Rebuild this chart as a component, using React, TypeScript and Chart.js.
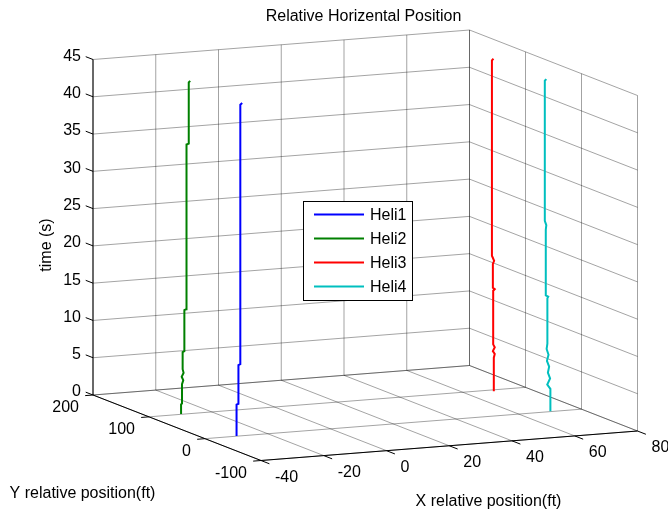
import React, { useEffect, useRef } from "react";
import { Chart, registerables } from "chart.js";

Chart.register(...registerables);

// ---- axis ticks ----
const xTicks = [-40, -20, 0, 20, 40, 60, 80];
const yTicks = [-100, 0, 100, 200];
const zTicks = [0, 5, 10, 15, 20, 25, 30, 35, 40, 45];
const xTickLabels = ["-40", "-20", "0", "20", "40", "60", "80"];
const yTickLabels = ["-100", "0", "100", "200"];
const zTickLabels = ["0", "5", "10", "15", "20", "25", "30", "35", "40", "45"];

// ---- series (time, x, y) ----
const seriesNames = ["Heli1", "Heli2", "Heli3", "Heli4"];

const heli1Time = [0, 4.2, 4.3, 9.5, 9.6, 44.4, 44.6];
const heli1X = [-29.8, -29.8, -29.2, -29.2, -28.6, -28.6, -28.0];
const heli1Y = [0.8, 0.8, 0.8, 0.8, 0.8, 0.8, 0.8];

const heli2Time = [0, 1.3, 1.4, 4.0, 4.5, 5.0, 5.5, 6.0, 8.3, 8.4, 13.9, 14.0, 21.5, 21.6, 36.1, 36.2, 44.4, 44.6];
const heli2X = [-29.6, -29.6, -29.3, -29.3, -28.9, -29.4, -28.8, -29.1, -29.1, -28.55, -28.55, -28.0, -28.0, -27.8, -27.8, -27.15, -27.15, -26.7];
const heli2Y = [101, 101, 101, 101, 101, 101, 101, 101, 101, 101, 101, 101, 101, 101, 101, 101, 101, 101];

const heli3Time = [0, 4.5, 5.0, 5.4, 5.9, 6.3, 6.7, 13.5, 13.7, 13.9, 17.1, 17.5, 18.2, 44.4, 44.6];
const heli3X = [68.9, 68.9, 69.2, 68.6, 69.2, 68.7, 68.7, 68.7, 69.2, 68.6, 68.6, 69.0, 68.3, 68.3, 68.8];
const heli3Y = [94.4, 94.4, 94.4, 94.4, 94.4, 94.4, 94.4, 94.4, 94.4, 94.4, 94.4, 94.4, 94.4, 94.4, 94.4];

const heli4Time = [0, 3.0, 3.6, 4.4, 5.2, 6.0, 6.8, 7.6, 8.4, 9.1, 15.2, 15.4, 15.6, 24.4, 25.0, 25.6, 44.4, 44.6];
const heli4X = [70.3, 70.3, 69.3, 70.2, 69.5, 69.9, 69.2, 69.7, 69.1, 69.34, 69.34, 69.6, 68.83, 68.83, 69.0, 68.52, 68.52, 69.0];
const heli4Y = [1.2, 1.2, 1.2, 1.2, 1.2, 1.2, 1.2, 1.2, 1.2, 1.2, 1.2, 1.2, 1.2, 1.2, 1.2, 1.2, 1.2, 1.2];

const seriesColors = ["#0000ff", "#008000", "#ff0000", "#00bfbf"];

// ---- view (orthographic projection of the 3D box into canvas space) ----
const W = 668;
const H = 512;
const X_MIN = xTicks[0], X_MAX = xTicks[xTicks.length - 1];
const Y_MIN = yTicks[0], Y_MAX = yTicks[yTicks.length - 1];
const Z_MIN = zTicks[0], Z_MAX = zTicks[zTicks.length - 1];
const VIEW = {
  ox: 261, oy: 460.5,          // screen position of (X_MIN, Y_MIN, Z_MIN)
  exx: 376.5 / 120, exy: -29.5 / 120,
  eyx: -168 / 300, eyy: -65.5 / 300,
  ezy: -335.5 / 45,
};
function proj(x: number, y: number, z: number) {
  const a = x - X_MIN, b = y - Y_MIN, c = z - Z_MIN;
  return {
    x: VIEW.ox + a * VIEW.exx + b * VIEW.eyx,
    y: VIEW.oy + a * VIEW.exy + b * VIEW.eyy + c * VIEW.ezy,
  };
}
const GAP = { x: null as any, y: null as any };

const FONT = '16px "Liberation Sans", Arial, Helvetica, sans-serif';

function buildSegments(segs: [number, number, number, number, number, number][]) {
  const pts: any[] = [];
  segs.forEach(([x1, y1, z1, x2, y2, z2]) => {
    pts.push(proj(x1, y1, z1), proj(x2, y2, z2), GAP);
  });
  return pts;
}

const textPlugin = {
  id: "texts3d",
  afterDraw(chart: any) {
    const ctx = chart.ctx;
    ctx.save();
    ctx.fillStyle = "#000";
    ctx.font = FONT;
    // title
    ctx.textAlign = "center";
    ctx.textBaseline = "middle";
    ctx.fillText("Relative Horizental Position", 363.5, 17);
    // z tick labels
    ctx.textAlign = "right";
    zTicks.forEach((zv, i) => {
      const p = proj(X_MIN, Y_MAX, zv);
      ctx.fillText(zTickLabels[i], p.x - 12, p.y - 3);
    });
    // y tick labels
    yTicks.forEach((yv, i) => {
      const p = proj(X_MIN, yv, Z_MIN);
      ctx.fillText(yTickLabels[i], p.x - 14, p.y + 13);
    });
    // x tick labels
    ctx.textAlign = "left";
    xTicks.forEach((xv, i) => {
      const p = proj(xv, Y_MIN, Z_MIN);
      ctx.fillText(xTickLabels[i], p.x + 14, p.y + 17);
    });
    // axis labels
    ctx.textAlign = "center";
    ctx.fillText("X relative position(ft)", 488.5, 502);
    ctx.fillText("Y relative position(ft)", 82.5, 494);
    ctx.translate(47, 245);
    ctx.rotate(-Math.PI / 2);
    ctx.fillText("time (s)", 0, 0);
    ctx.restore();

    // legend
    ctx.save();
    const lx = 303.5, ly = 201.5, lw = 109, lh = 99;
    ctx.fillStyle = "#fff";
    ctx.fillRect(lx, ly, lw, lh);
    ctx.strokeStyle = "#000";
    ctx.lineWidth = 1;
    ctx.strokeRect(lx, ly, lw, lh);
    ctx.font = FONT;
    ctx.textAlign = "left";
    ctx.textBaseline = "middle";
    seriesNames.forEach((name, i) => {
      const yy = 214.5 + i * 24;
      ctx.strokeStyle = seriesColors[i];
      ctx.lineWidth = 2;
      ctx.beginPath();
      ctx.moveTo(314, yy);
      ctx.lineTo(364, yy);
      ctx.stroke();
      ctx.fillStyle = "#000";
      ctx.fillText(name, 370, yy + 1);
    });
    ctx.restore();
  },
};

export default function App() {
  const ref = useRef<HTMLCanvasElement | null>(null);
  useEffect(() => {
    if (!ref.current) return;

    const floorSegs: any[] = [];
    xTicks.forEach((xv) => floorSegs.push([xv, Y_MIN, Z_MIN, xv, Y_MAX, Z_MIN]));
    yTicks.forEach((yv) => floorSegs.push([X_MIN, yv, Z_MIN, X_MAX, yv, Z_MIN]));
    const backSegs: any[] = [];
    xTicks.forEach((xv) => backSegs.push([xv, Y_MAX, Z_MIN, xv, Y_MAX, Z_MAX]));
    zTicks.forEach((zv) => backSegs.push([X_MIN, Y_MAX, zv, X_MAX, Y_MAX, zv]));
    const sideSegs: any[] = [];
    yTicks.forEach((yv) => sideSegs.push([X_MAX, yv, Z_MIN, X_MAX, yv, Z_MAX]));
    zTicks.forEach((zv) => sideSegs.push([X_MAX, Y_MIN, zv, X_MAX, Y_MAX, zv]));

    const axisSegs: any[] = [
      [X_MIN, Y_MIN, Z_MIN, X_MIN, Y_MAX, Z_MIN],
      [X_MIN, Y_MIN, Z_MIN, X_MAX, Y_MIN, Z_MIN],
      [X_MIN, Y_MAX, Z_MIN, X_MIN, Y_MAX, Z_MAX],
    ];
    xTicks.forEach((xv) => axisSegs.push([xv, Y_MIN, Z_MIN, xv, Y_MIN - 15, Z_MIN]));
    yTicks.forEach((yv) => axisSegs.push([X_MIN, yv, Z_MIN, X_MIN - 2.5, yv, Z_MIN]));
    zTicks.forEach((zv) => axisSegs.push([X_MIN, Y_MAX, zv, X_MIN, Y_MAX + 13, zv]));

    const gridStyle = { borderColor: "rgba(0,0,0,0.36)", borderWidth: 1 };

    const heliT = [heli1Time, heli2Time, heli3Time, heli4Time];
    const heliX = [heli1X, heli2X, heli3X, heli4X];
    const heliY = [heli1Y, heli2Y, heli3Y, heli4Y];

    const heliSets = seriesNames.map((name, i) => ({
      label: name,
      data: heliT[i].map((t, k) => proj(heliX[i][k], heliY[i][k], t)),
      borderColor: seriesColors[i],
      borderWidth: 2,
      order: 1 + i,
    }));

    const chart = new Chart(ref.current, {
      type: "line",
      data: {
        datasets: [
          ...heliSets,
          { label: "axes", data: buildSegments(axisSegs), borderColor: "#000", borderWidth: 1, order: 8 },
          { label: "floor", data: buildSegments(floorSegs), ...gridStyle, order: 10 },
          { label: "back", data: buildSegments(backSegs), ...gridStyle, order: 11 },
          { label: "side", data: buildSegments(sideSegs), ...gridStyle, order: 12 },
        ] as any,
      },
      options: {
        animation: false,
        responsive: false,
        events: [],
        layout: { padding: 0 },
        elements: { point: { radius: 0 }, line: { tension: 0, fill: false } },
        spanGaps: false,
        plugins: { legend: { display: false }, tooltip: { enabled: false }, title: { display: false } },
        scales: {
          x: { type: "linear", min: 0, max: W, display: false },
          y: { type: "linear", min: 0, max: H, reverse: true, display: false },
        },
      } as any,
      plugins: [textPlugin],
    });
    return () => chart.destroy();
  }, []);

  return (
    <div style={{ position: "fixed", left: 0, top: 0, width: W, height: H, background: "#fff" }}>
      <canvas ref={ref} width={W} height={H} style={{ display: "block", width: W, height: H }} />
    </div>
  );
}
